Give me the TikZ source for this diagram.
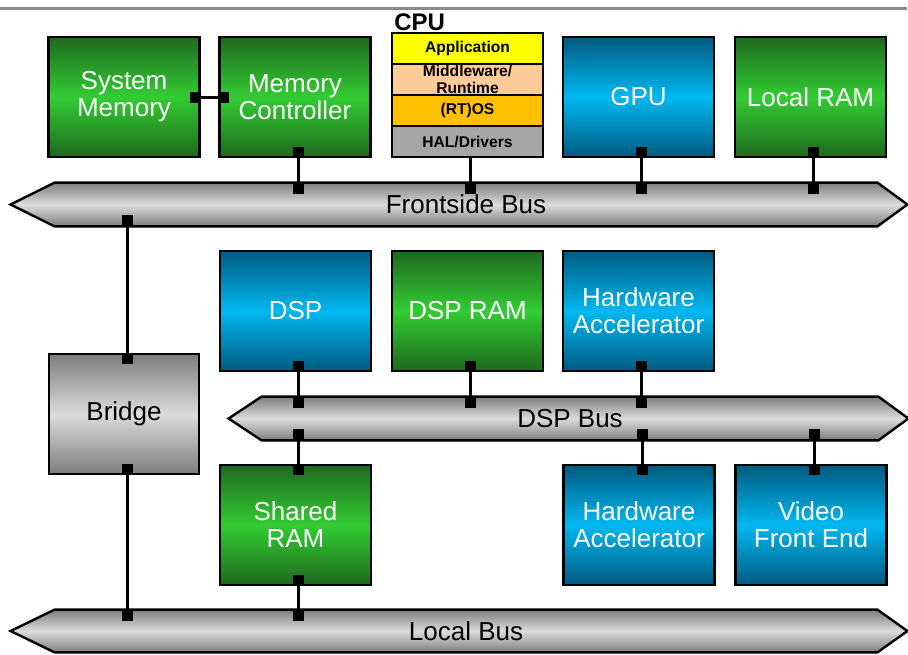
\documentclass[tikz,border=0pt]{standalone}
\usepackage{fontspec}
\setmainfont{Liberation Sans}
\usetikzlibrary{positioning}
\usetikzlibrary{backgrounds}

\definecolor{grnDark}{RGB}{30,105,30}
\definecolor{grnLight}{RGB}{51,204,51}
\definecolor{bluDark}{RGB}{0,90,128}
\definecolor{bluLight}{RGB}{0,184,240}
\definecolor{gryDark}{RGB}{125,125,125}
\definecolor{gryLight}{RGB}{220,220,220}
\definecolor{appYellow}{RGB}{255,255,0}
\definecolor{mwPeach}{RGB}{255,204,153}
\definecolor{osOrange}{RGB}{255,192,0}
\definecolor{halGray}{RGB}{166,166,166}
\definecolor{ruleGray}{RGB}{140,140,140}

\begin{document}
\begin{tikzpicture}[x=0.5pt, y=-0.5pt,
  block/.style={draw=black, line width=1.2pt, minimum width=75.5pt, minimum height=60pt, inner sep=2pt, align=center, text=white, font=\fontsize{13}{13.5}\selectfont},
  green block/.style={block, top color=grnDark, bottom color=grnDark, middle color=grnLight},
  blue block/.style={block, top color=bluDark, bottom color=bluDark, middle color=bluLight},
  gray block/.style={block, top color=gryDark, bottom color=gryDark, middle color=gryLight, text=black},
  layer/.style={draw=black, line width=0.8pt, outer sep=0pt, minimum width=75.5pt, minimum height=15.5pt, inner sep=0pt, align=center, font=\fontsize{7.8}{8.6}\selectfont\bfseries},
  bus/.style={minimum height=21.5pt, inner sep=0pt, font=\fontsize{13}{13.5}\selectfont},
  busfill/.style={draw=black, line width=1.2pt, top color=gryDark, bottom color=gryDark, middle color=gryLight},
  port/.style={fill=black, minimum size=5.5pt, inner sep=0pt, outer sep=0pt},
  vport/.style={port, xshift=1.5pt},
  link/.style={line width=1.5pt}]
  \useasboundingbox (0,0) rectangle (908,654);
  \draw[ruleGray, line width=1.5pt] (0,8.5) -- (907,8.5);

  % top row
  \node[green block] (sysmem) at (124,97) {System\\Memory};
  \node[green block] (memctl) at (295,97) {Memory\\Controller};
  \node[layer, fill=appYellow] (app) at (467.5,48.5) {Application};
  \node[layer, fill=mwPeach, below=0pt of app] (mw) {Middleware/\\Runtime};
  \node[layer, fill=osOrange, below=0pt of mw] (os) {(RT)OS};
  \node[layer, fill=halGray, below=0pt of os] (hal) {HAL/Drivers};
  \node[anchor=south west, inner sep=1pt, font=\fontsize{12}{14}\selectfont\bfseries] (cpu) at (app.north west) {CPU};
  \node[blue block] (gpu) at (638.5,97) {GPU};
  \node[green block] (localram) at (810.5,97) {Local RAM};

  \node[bus, minimum width=411pt] (fsb) at (466,204.5) {Frontside Bus};

  % dsp part
  \node[blue block] (dsp) at (295.5,311) {DSP};
  \node[green block] (dspram) at (467.5,311) {DSP RAM};
  \node[blue block] (hwacc1) at (638.5,311) {Hardware\\Accelerator};
  \node[gray block, minimum width=75pt] (bridge) at (124,414) {Bridge};
  \node[bus, minimum width=308pt] (dspbus) at (570,418.5) {DSP Bus};
  \node[green block] (sharedram) at (295.5,525) {Shared\\RAM};
  \node[blue block] (hwacc2) at (639,525) {Hardware\\Accelerator};
  \node[blue block] (vfe) at (811,525) {Video\\Front End};

  \node[bus, minimum width=411pt, minimum height=21pt] (localbus) at (466,631) {Local Bus};

  \begin{scope}[on background layer]
    \path[busfill] (fsb.north west) -- (fsb.north east) -- ([xshift=15pt]fsb.east) -- (fsb.south east) -- (fsb.south west) -- ([xshift=-22pt]fsb.west) -- cycle;
    \path[busfill] (dspbus.north west) -- (dspbus.north east) -- ([xshift=15pt]dspbus.east) -- (dspbus.south east) -- (dspbus.south west) -- ([xshift=-16.5pt]dspbus.west) -- cycle;
    \path[busfill] (localbus.north west) -- (localbus.north east) -- ([xshift=15pt]localbus.east) -- (localbus.south east) -- (localbus.south west) -- ([xshift=-22pt]localbus.west) -- cycle;
  \end{scope}

  % ports and links
  \node[port, anchor=east] (sysmem-r) at (sysmem.east) {};
  \node[port, anchor=west] (memctl-l) at (memctl.west) {};
  \draw[link] (sysmem-r) -- (memctl-l);

  \node[vport, anchor=south] (memctl-b) at (memctl.south) {};
  \node[vport, anchor=north] (fsb-memctl) at (memctl.south |- fsb.north) {};
  \draw[link] (memctl-b) -- (fsb-memctl);
  \node[vport, anchor=north] (fsb-cpu) at (hal.south |- fsb.north) {};
  \draw[link] (hal.south -| fsb-cpu) -- (fsb-cpu);
  \node[vport, anchor=south] (gpu-b) at (gpu.south) {};
  \node[vport, anchor=north] (fsb-gpu) at (gpu.south |- fsb.north) {};
  \draw[link] (gpu-b) -- (fsb-gpu);
  \node[vport, anchor=south] (localram-b) at (localram.south) {};
  \node[vport, anchor=north] (fsb-localram) at (localram.south |- fsb.north) {};
  \draw[link] (localram-b) -- (fsb-localram);

  \node[vport, anchor=south] (fsb-bridge) at (bridge.north |- fsb.south) {};
  \node[vport, anchor=north] (bridge-t) at (bridge.north) {};
  \draw[link] (fsb-bridge) -- (bridge-t);
  \node[vport, anchor=south] (bridge-b) at (bridge.south) {};
  \node[vport, anchor=north] (localbus-bridge) at (bridge.south |- localbus.north) {};
  \draw[link] (bridge-b) -- (localbus-bridge);

  \node[vport, anchor=south] (dsp-b) at (dsp.south) {};
  \node[vport, anchor=north] (dspbus-dsp) at (dsp.south |- dspbus.north) {};
  \draw[link] (dsp-b) -- (dspbus-dsp);
  \node[vport, anchor=south] (dspram-b) at (dspram.south) {};
  \node[vport, anchor=north] (dspbus-dspram) at (dspram.south |- dspbus.north) {};
  \draw[link] (dspram-b) -- (dspbus-dspram);
  \node[vport, anchor=south] (hwacc1-b) at (hwacc1.south) {};
  \node[vport, anchor=north] (dspbus-hwacc1) at (hwacc1.south |- dspbus.north) {};
  \draw[link] (hwacc1-b) -- (dspbus-hwacc1);

  \node[vport, anchor=south] (dspbus-sharedram) at (sharedram.north |- dspbus.south) {};
  \node[vport, anchor=north] (sharedram-t) at (sharedram.north) {};
  \draw[link] (dspbus-sharedram) -- (sharedram-t);
  \node[vport, anchor=south] (dspbus-hwacc2) at (hwacc2.north |- dspbus.south) {};
  \node[vport, anchor=north] (hwacc2-t) at (hwacc2.north) {};
  \draw[link] (dspbus-hwacc2) -- (hwacc2-t);
  \node[vport, anchor=south] (dspbus-vfe) at (vfe.north |- dspbus.south) {};
  \node[vport, anchor=north] (vfe-t) at (vfe.north) {};
  \draw[link] (dspbus-vfe) -- (vfe-t);

  \node[vport, anchor=south] (sharedram-b) at (sharedram.south) {};
  \node[vport, anchor=north] (localbus-sharedram) at (sharedram.south |- localbus.north) {};
  \draw[link] (sharedram-b) -- (localbus-sharedram);
\end{tikzpicture}
\end{document}
